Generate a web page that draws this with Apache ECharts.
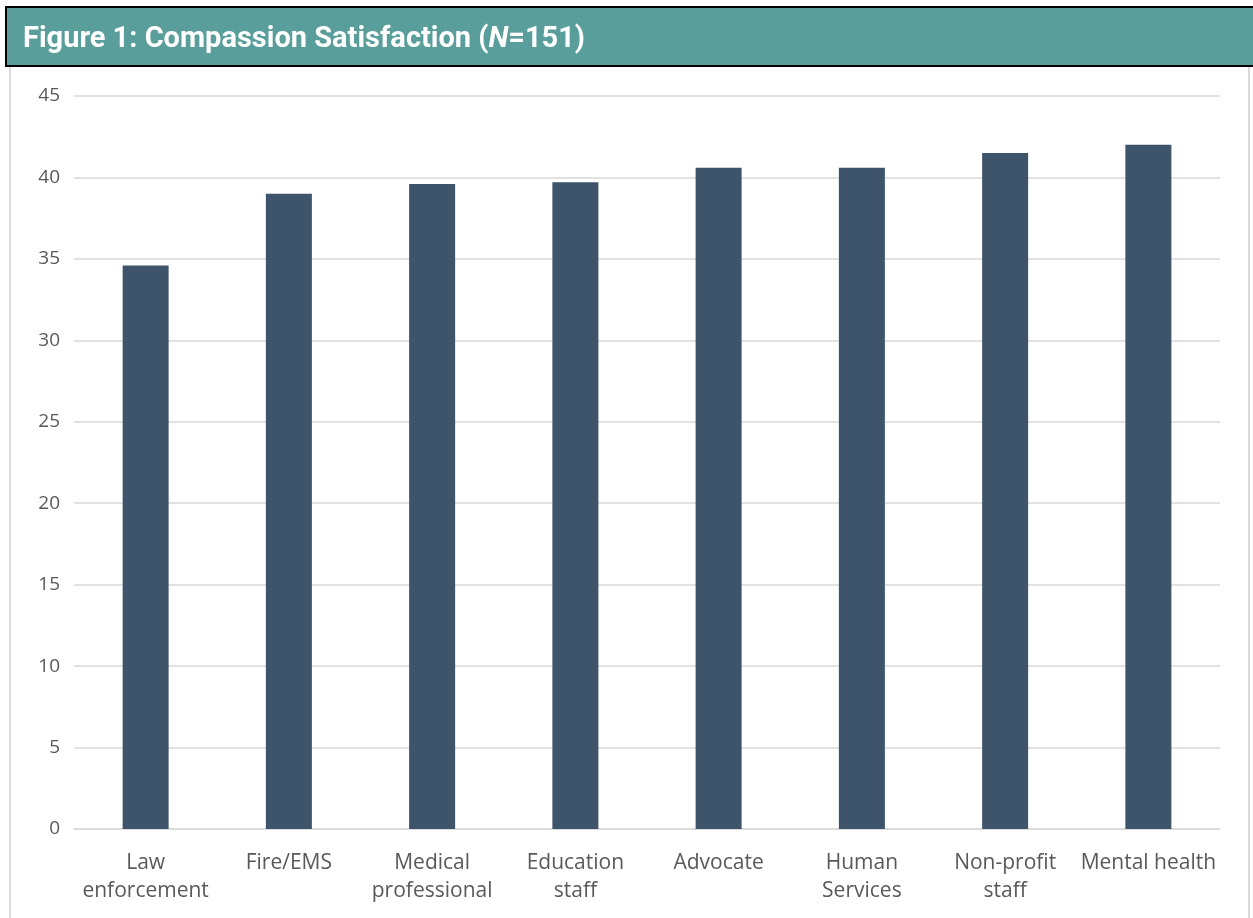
<!DOCTYPE html>
<html>
<head>
<meta charset="utf-8">
<script src="https://cdn.jsdelivr.net/npm/echarts@6/dist/echarts.min.js"></script>
<style>
  html, body { margin: 0; padding: 0; background: #ffffff; }
  #chart { width: 1253px; height: 918px; }
</style>
</head>
<body>
<div id="chart"></div>
<script>
// Occupational groups (x axis) and mean compassion satisfaction scores
const categories = [
  'Law\nenforcement', 'Fire/EMS', 'Medical\nprofessional', 'Education\nstaff',
  'Advocate', 'Human\nServices', 'Non-profit\nstaff', 'Mental health'
];
const scores = [34.6, 39.0, 39.6, 39.7, 40.6, 40.6, 41.5, 42.0];
const yTicks = { min: 0, max: 45, interval: 5 };

const chart = echarts.init(document.getElementById('chart'), null, { renderer: 'canvas' });

chart.setOption({
  backgroundColor: '#ffffff',
  animation: false,
  graphic: [
    // light frame around the plot area
    { type: 'rect', shape: { x: 10, y: 62, width: 1239, height: 870 },
      style: { fill: 'none', stroke: '#d9d9d9', lineWidth: 2 }, z: 0 },
    // header band
    { type: 'rect', shape: { x: 6, y: 7, width: 1260, height: 59 },
      style: { fill: '#599e9a', stroke: '#000000', lineWidth: 2 }, z: 1 }
  ],
  title: {
    text: '{b|Figure 1: Compassion Satisfaction (}{i|N}{b|=151)}',
    left: 18, top: 20,
    textStyle: {
      rich: {
        b: { fontFamily: 'Roboto', fontWeight: 'bold', fontSize: 29, color: '#ffffff' },
        i: { fontFamily: 'Roboto', fontWeight: 'bold', fontStyle: 'italic', fontSize: 29, color: '#ffffff' }
      }
    },
    z: 5
  },
  grid: { left: 74, right: 33, top: 96, bottom: 89, containLabel: false },
  xAxis: {
    type: 'category',
    data: categories,
    axisLine: { lineStyle: { color: '#d9d9d9', width: 1.5 } },
    axisTick: { show: false },
    axisLabel: {
      color: '#595959', fontFamily: 'Open Sans', fontSize: 21,
      lineHeight: 28, margin: 20, interval: 0
    }
  },
  yAxis: {
    type: 'value',
    min: yTicks.min, max: yTicks.max, interval: yTicks.interval,
    axisLine: { show: false },
    axisTick: { show: false },
    splitLine: { lineStyle: { color: '#d9d9d9', width: 1.5 } },
    axisLabel: { color: '#595959', fontFamily: 'Open Sans', fontSize: 19, margin: 14 }
  },
  series: [{
    type: 'bar',
    data: scores,
    barWidth: 46,
    itemStyle: { color: '#3d546b' }
  }]
});
</script>
</body>
</html>
